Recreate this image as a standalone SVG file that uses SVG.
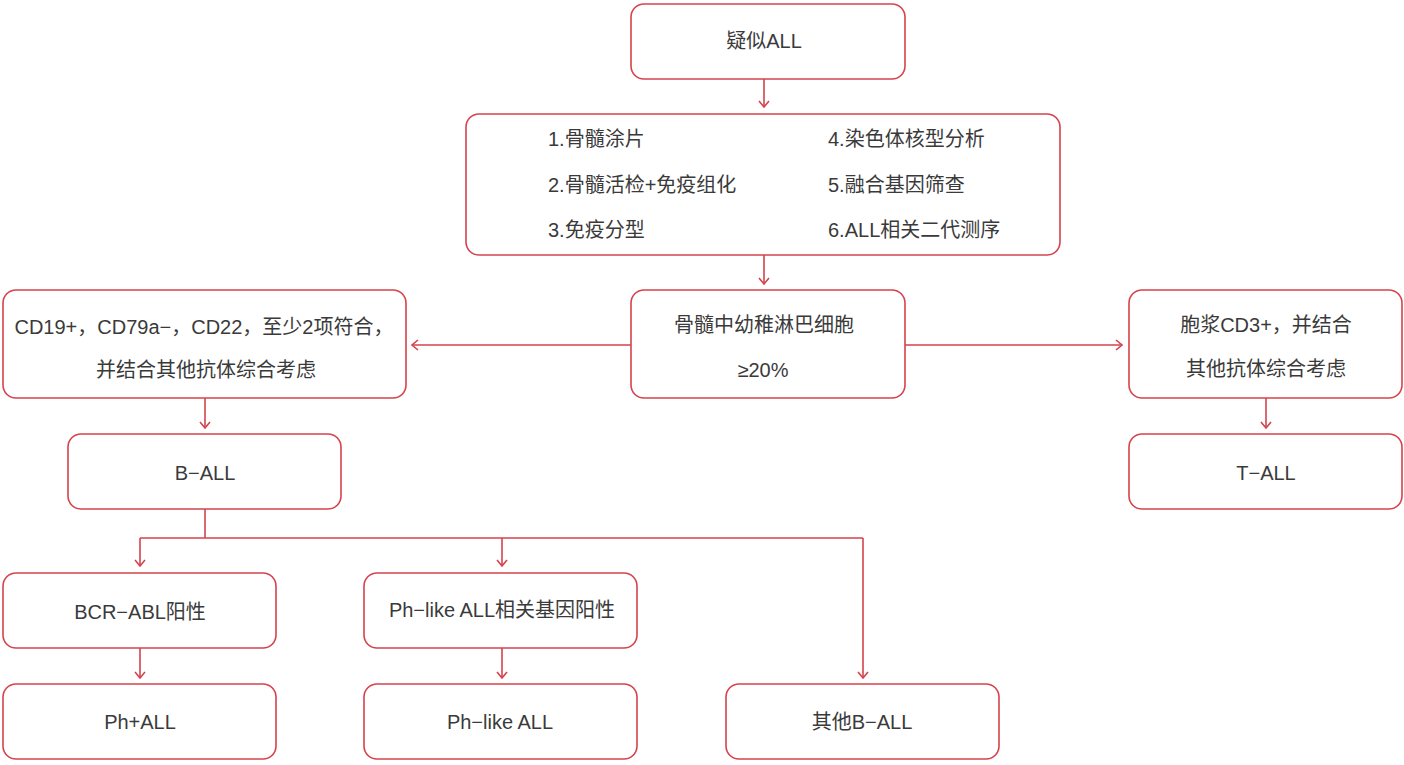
<svg xmlns="http://www.w3.org/2000/svg" width="1404" height="765" viewBox="0 0 1404 765">
<style>
.box{fill:#fff;stroke:#d5434c;stroke-width:1.6}
.t{font-family:"Liberation Sans","Noto Sans CJK SC",sans-serif;font-size:20px;fill:#3a3a3a;text-anchor:middle;dominant-baseline:central}
.l{text-anchor:start}
.c{fill:none;stroke:#d5434c;stroke-width:1.6}
</style>
<defs>
<marker id="ah" viewBox="0 0 12 12" refX="11" refY="6" markerWidth="12" markerHeight="12" markerUnits="userSpaceOnUse" orient="auto">
<path d="M5,1 L11,6 L5,11" fill="none" stroke="#d5434c" stroke-width="1.6"/>
</marker>
</defs>
<rect width="1404" height="765" fill="#fff"/>
<g id="connectors">
<path class="c" d="M764,79 V107" marker-end="url(#ah)"/>
<path class="c" d="M764,255 V284" marker-end="url(#ah)"/>
<path class="c" d="M631,345 H412" marker-end="url(#ah)"/>
<path class="c" d="M905,345 H1122" marker-end="url(#ah)"/>
<path class="c" d="M205,398 V428" marker-end="url(#ah)"/>
<path class="c" d="M1266,398 V428" marker-end="url(#ah)"/>
<path class="c" d="M205,509 V538"/>
<path class="c" d="M140,538 H863"/>
<path class="c" d="M140,538 V566" marker-end="url(#ah)"/>
<path class="c" d="M502,538 V566" marker-end="url(#ah)"/>
<path class="c" d="M863,538 V678" marker-end="url(#ah)"/>
<path class="c" d="M140,648 V678" marker-end="url(#ah)"/>
<path class="c" d="M502,648 V678" marker-end="url(#ah)"/>
</g>
<g id="n1"><rect class="box" x="631" y="4" width="274" height="75" rx="13"/><text class="t" x="764" y="41">疑似ALL</text></g>
<g id="n2"><rect class="box" x="466" y="114" width="594" height="141" rx="13"/>
<text class="t l" x="548" y="139">1.骨髓涂片</text>
<text class="t l" x="548" y="185">2.骨髓活检+免疫组化</text>
<text class="t l" x="548" y="230">3.免疫分型</text>
<text class="t l" x="828" y="139">4.染色体核型分析</text>
<text class="t l" x="828" y="185">5.融合基因筛查</text>
<text class="t l" x="828" y="230">6.ALL相关二代测序</text>
</g>
<g id="n3"><rect class="box" x="631" y="290" width="274" height="108" rx="13"/><text class="t" x="764" y="325">骨髓中幼稚淋巴细胞</text><text class="t" x="763" y="370">≥20%</text></g>
<g id="n4"><rect class="box" x="3" y="290" width="403" height="108" rx="13"/><text class="t" x="204" y="327">CD19+，CD79a−，CD22，至少2项符合，</text><text class="t" x="206" y="370">并结合其他抗体综合考虑</text></g>
<g id="n5"><rect class="box" x="1129" y="290" width="273" height="108" rx="13"/><text class="t" x="1266" y="325">胞浆CD3+，并结合</text><text class="t" x="1266" y="369">其他抗体综合考虑</text></g>
<g id="n6"><rect class="box" x="68" y="434" width="273" height="75" rx="13"/><text class="t" x="205" y="473">B−ALL</text></g>
<g id="n7"><rect class="box" x="1129" y="434" width="273" height="75" rx="13"/><text class="t" x="1266" y="473">T−ALL</text></g>
<g id="n8"><rect class="box" x="3" y="573" width="273" height="75" rx="13"/><text class="t" x="140" y="612">BCR−ABL阳性</text></g>
<g id="n9"><rect class="box" x="364" y="573" width="273" height="75" rx="13"/><text class="t" x="502" y="610">Ph−like ALL相关基因阳性</text></g>
<g id="n10"><rect class="box" x="3" y="684" width="273" height="75" rx="13"/><text class="t" x="140" y="722">Ph+ALL</text></g>
<g id="n11"><rect class="box" x="364" y="684" width="273" height="75" rx="13"/><text class="t" x="500" y="722">Ph−like ALL</text></g>
<g id="n12"><rect class="box" x="726" y="684" width="273" height="75" rx="13"/><text class="t" x="862" y="722">其他B−ALL</text></g>
</svg>
